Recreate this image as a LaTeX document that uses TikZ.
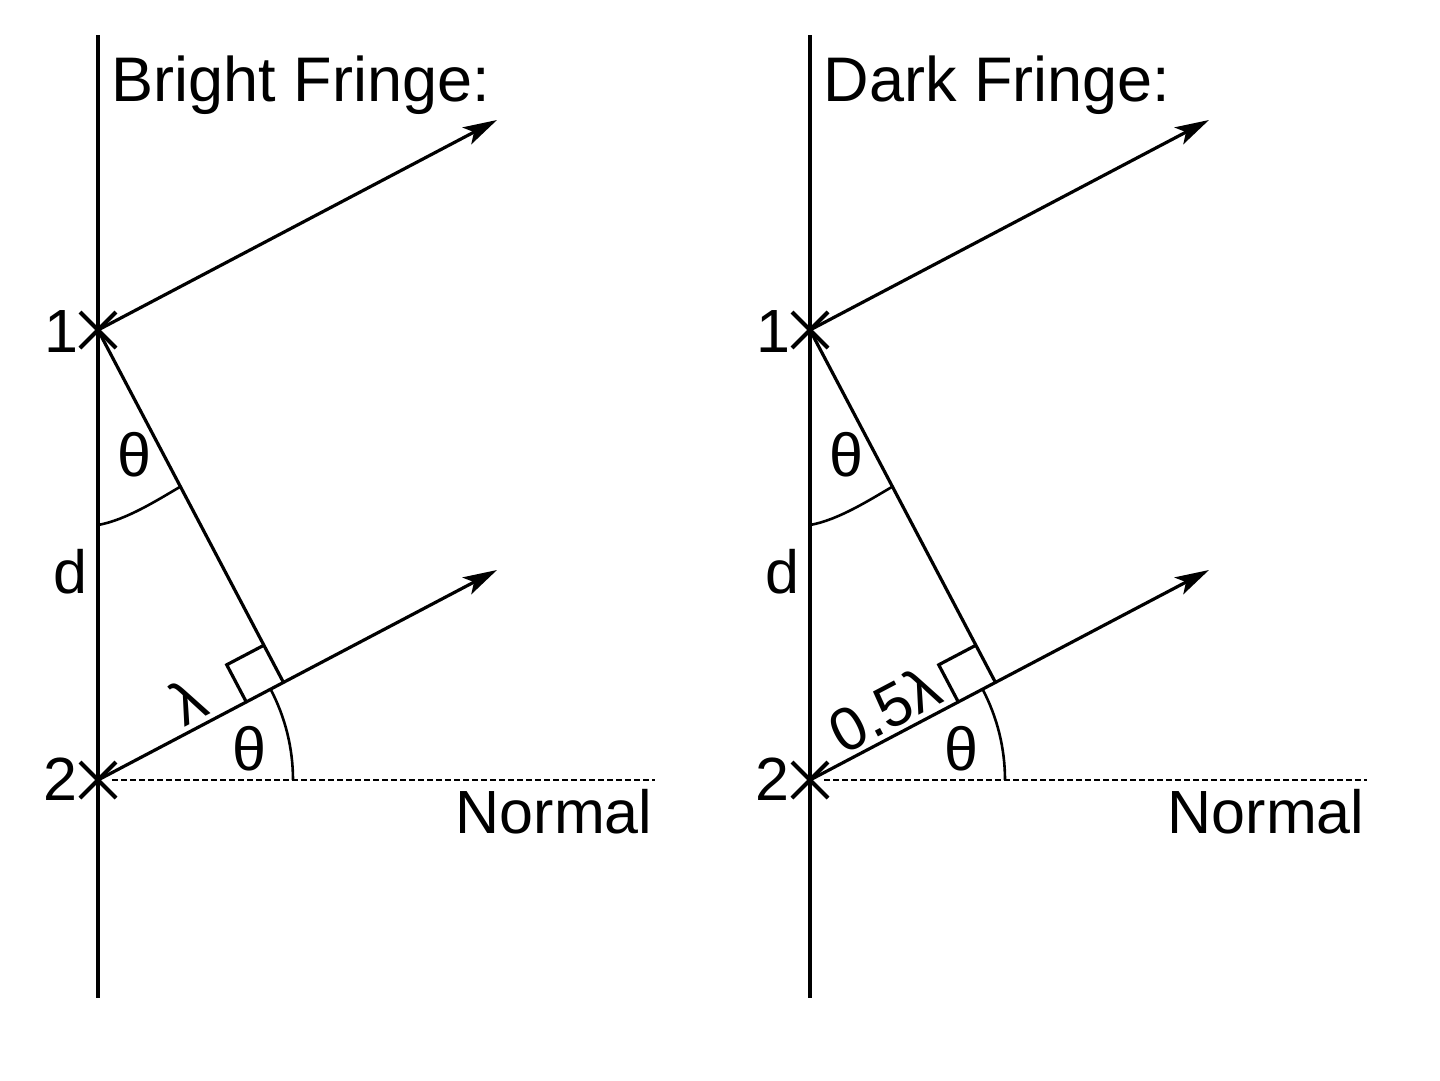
\documentclass[tikz,border=0pt]{standalone}
\usepackage{fontspec}
\setmainfont{Liberation Sans}
\usetikzlibrary{calc,arrows.meta}
\begin{document}
\begin{tikzpicture}[x=1pt,y=-1pt,line width=3.2pt,
  font=\fontsize{61}{70}\selectfont,
  ray/.style={-{Stealth[length=34pt,width=19pt,inset=8pt]}},
  normalline/.style={line width=2.6pt,dash pattern=on 6pt off 3pt},
  crossmark/.style={line width=4pt},
  arcline/.style={line width=2.6pt},
  lbl/.style={inner sep=0pt}]
\useasboundingbox (0,0) rectangle (1440,1080);
\foreach \p/\dx/\title/\lab/\lx/\ly in {L/0/Bright Fringe:/λ/188/701,R/712/Dark Fringe:/0.5λ/172/709}{
\begin{scope}[xshift=\dx pt]
  \coordinate (\p top) at (98,35);
  \coordinate (\p bot) at (98,998);
  \coordinate (\p one) at (98,330);
  \coordinate (\p two) at (98,780);
  \coordinate (\p endone) at (497,120);
  \coordinate (\p endtwo) at (497,570);
  \coordinate (\p nstart) at (112,780);
  \coordinate (\p nend) at (655,780);
  \coordinate (\p F) at ($(\p two)!(\p one)!(\p endtwo)$);
  \coordinate (\p BA) at ($(\p F)!42pt!(\p two)$);
  \coordinate (\p BB) at ($(\p F)!42pt!(\p one)$);
  \coordinate (\p BC) at ($(\p BA)+(\p BB)-(\p F)$);
  \coordinate (\p arcA) at (98,525);
  \coordinate (\p arcB) at ($(\p one)!177pt!(\p F)$);
  % lines
  \draw (\p top) -- (\p bot);
  \draw[normalline] (\p nstart) -- (\p nend);
  \draw[ray] (\p one) -- (\p endone);
  \draw[ray] (\p two) -- (\p endtwo);
  \draw (\p one) -- (\p F);
  \draw (\p BA) -- (\p BC) -- (\p BB);
  % angle arcs
  \draw[arcline] (\p arcA) .. controls ($(\p arcA)+(28,-5)$) and ($(\p arcB)+(-24,14)$) .. (\p arcB);
  \draw[arcline] ($(\p two)+(195,0)$) arc[start angle=0,end angle=-27.76,radius=195];
  % crosses
  \draw[crossmark] ($(\p one)+(-18,-18)$) -- ($(\p one)+(18,18)$);
  \draw[crossmark] ($(\p one)+(-18,18)$) -- ($(\p one)+(18,-18)$);
  \draw[crossmark] ($(\p two)+(-18,-18)$) -- ($(\p two)+(18,18)$);
  \draw[crossmark] ($(\p two)+(-18,18)$) -- ($(\p two)+(18,-18)$);
  % texts
  \node[lbl,anchor=base west,font=\fontsize{63}{72}\selectfont] (\p title) at (110,101) {\title};
  \node[lbl,anchor=base] (\p labone) at (61,352) {1};
  \node[lbl,anchor=base] (\p labtwo) at (60,800) {2};
  \node[lbl,anchor=base] (\p d) at (70,593) {d};
  \node[lbl] (\p thone) at (134,455) {θ};
  \node[lbl] (\p thtwo) at (249,749) {θ};
  \node[lbl,rotate=27.76] (\p lam) at (\lx,\ly) {\lab};
  \node[lbl,anchor=base east] (\p normal) at (654,833) {Normal};
\end{scope}}
\end{tikzpicture}
\end{document}
